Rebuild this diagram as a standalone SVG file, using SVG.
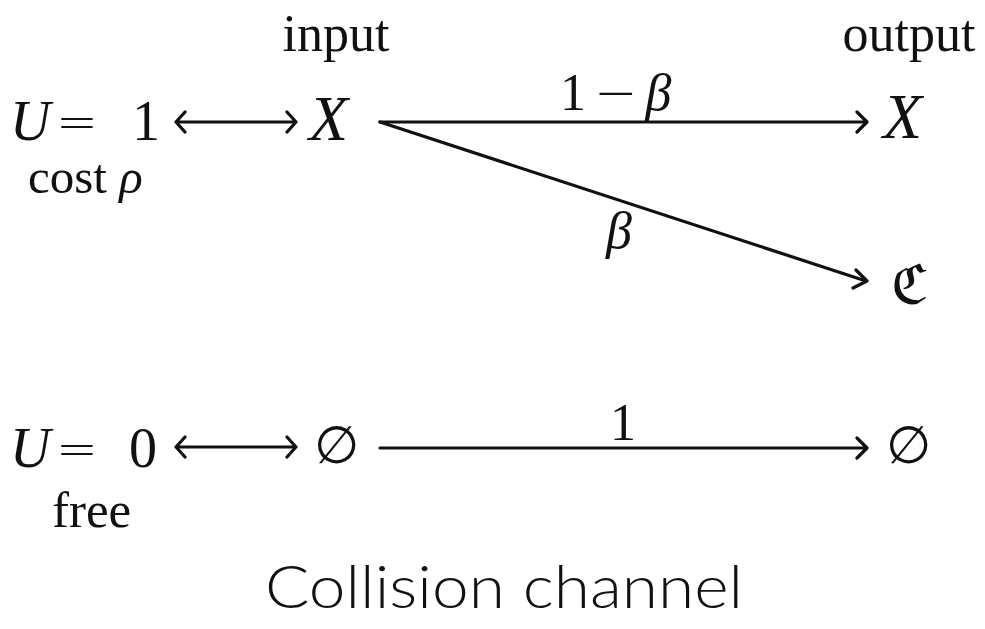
<svg xmlns="http://www.w3.org/2000/svg" width="985" height="629" viewBox="0 0 985 629">
<style>
.t{font-family:"Liberation Serif","DejaVu Serif",serif;fill:#111;}
.m{font-style:italic;}
.op{font-family:"DejaVu Sans","Liberation Sans",sans-serif;font-weight:300;}
.c{fill:none;stroke:#111;stroke-width:3.2;stroke-linecap:round;stroke-linejoin:round;}
.cap{font-family:"Lato","Open Sans","Liberation Sans",sans-serif;font-weight:300;fill:#111;}
</style>
<rect width="985" height="629" fill="#fff"/>
<g id="header-input"><text class="t" x="336" y="51" font-size="52" text-anchor="middle">input</text></g>
<g id="header-output"><text class="t" x="909" y="51" font-size="52" text-anchor="middle">output</text></g>
<g id="node-U1">
<text class="t m" x="10" y="140" font-size="56">U</text>
<text class="t op" x="56" y="139" font-size="50">=</text>
<text class="t" x="132" y="140" font-size="56">1</text>
<text class="t" x="28" y="193" font-size="49">cost <tspan class="m">ρ</tspan></text>
</g>
<g id="node-Xin"><text class="t m" x="309" y="140" font-size="64">X</text></g>
<g id="node-Xout"><text class="t m" x="883" y="138" font-size="64">X</text></g>
<g id="node-C"><text class="t" x="891" y="304" font-size="56">ℭ</text></g>
<g id="node-U0">
<text class="t m" x="10" y="467" font-size="56">U</text>
<text class="t op" x="56" y="466" font-size="50">=</text>
<text class="t" x="129" y="467" font-size="56">0</text>
<text class="t" x="52" y="527" font-size="51">free</text>
</g>
<g id="node-empty-in"><text class="t" x="314" y="463" font-size="52">∅</text></g>
<g id="node-empty-out"><text class="t" x="886" y="463" font-size="52">∅</text></g>
<g id="connectors">
<path class="c" d="M177 122 H296 M185 112 L176 122 L185 132 M287 112 L296 122 L287 132"/>
<path class="c" d="M177 447 H296 M185 437 L176 447 L185 457 M287 437 L296 447 L287 457"/>
<path class="c" d="M380 122 H866 M857 112 L867 122 L857 132"/>
<path class="c" d="M380 122 L866 281 M856 270 L867 281 L853 288"/>
<path class="c" d="M380 448 H866 M857 438 L867 448 L857 458"/>
<text class="t" x="560" y="110" font-size="52">1<tspan class="op" dx="8">−</tspan><tspan class="m" dx="8">β</tspan></text>
<text class="t m" x="606" y="248" font-size="52">β</text>
<text class="t" x="610" y="440" font-size="52">1</text>
</g>
<g id="caption"><text class="cap" x="265" y="608" font-size="60" textLength="478" lengthAdjust="spacingAndGlyphs">Collision channel</text></g>
</svg>
